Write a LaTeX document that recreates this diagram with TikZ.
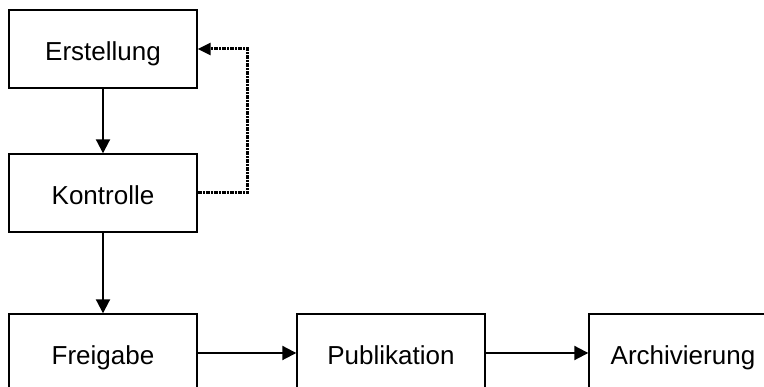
\documentclass[tikz,border=0pt]{standalone}
\usepackage{fontspec}
\setmainfont{Liberation Sans}
\usetikzlibrary{positioning, arrows.meta}

\begin{document}
\begin{tikzpicture}[x=1pt, y=1pt,
        every node/.style={font=\fontsize{26}{31}\selectfont},
        stage/.style={rectangle, draw, line width=1.4pt, minimum width=188pt, minimum height=78pt, align=center, text height=24pt, text depth=0pt},
        flow/.style={-{Triangle[length=14pt, width=14pt]}, line width=2pt},
        loopback/.style={-{Triangle[length=13pt, width=12pt]}, line width=3pt, dash pattern=on 4pt off 1pt on 2pt off 1pt}
    ]
%
    \useasboundingbox (0, 0) rectangle (764, 387);
    \clip (0, 0) rectangle (764, 387);
%
    % Stages
    \node[stage] (erst) at (103, 338) {Erstellung};
    \node[stage] (kont) at (103, 194) {Kontrolle};
    \node[stage] (frei) at (103, 34) {Freigabe};
    \node[stage] (publ) at (391, 34) {Publikation};
    \node[stage] (arch) at (683, 34) {Archivierung};
%
    % Flow
    \draw[flow] (erst) -- (kont);
    \draw[flow] (kont) -- (frei);
    \draw[flow] (frei) -- (publ);
    \draw[flow] (publ) -- (arch);
%
    % Back to Erstellung
    \draw[loopback] (kont.east) -- ++(50, 0) |- (erst.east);
%
\end{tikzpicture}
\end{document}
